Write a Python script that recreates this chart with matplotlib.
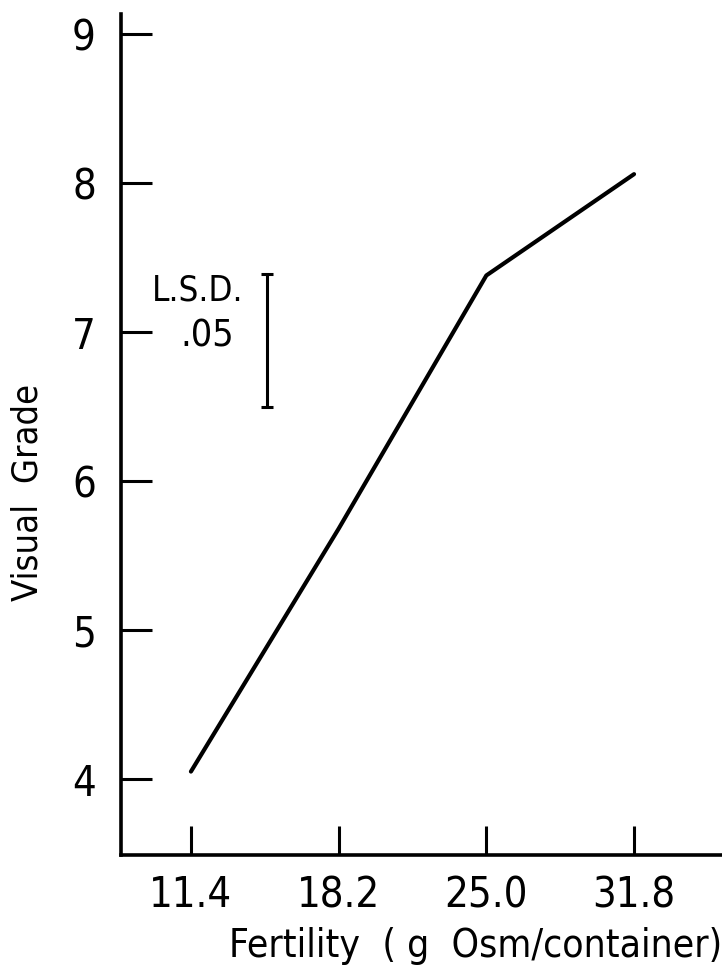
import matplotlib
matplotlib.use('Agg')
import matplotlib.pyplot as plt

# данные
fertility = [11.4, 18.2, 25.0, 31.8]
grade = [4.05, 5.68, 7.38, 8.06]
xtick_labels = ['11.4', '18.2', '25.0', '31.8']
yticks = [4, 5, 6, 7, 8, 9]
lsd_x = 14.9
lsd_low, lsd_high = 6.50, 7.39

plt.rcParams['font.family'] = ['DejaVu Sans']
plt.rcParams['font.stretch'] = 'condensed'

fig = plt.figure(figsize=(7.22, 9.8), dpi=100)
ax = fig.add_axes([121 / 722, 1 - 855 / 980, (722 - 121) / 722, (855 - 14) / 980])

ax.plot(fertility, grade, color='black', lw=3, solid_capstyle='round')

# L.S.D. bar
ax.errorbar([lsd_x], [(lsd_low + lsd_high) / 2], yerr=[(lsd_high - lsd_low) / 2],
            color='black', lw=2.2, capsize=4.5, capthick=2.2)
ax.text(lsd_x - 1.1, 7.21, 'L.S.D.', ha='right', va='baseline', fontsize=25)
ax.text(lsd_x - 1.5, 6.905, '.05', ha='right', va='baseline', fontsize=27)

ax.set_xlim(8.18, 35.85)
ax.set_ylim(3.49, 9.135)
ax.set_xticks(fertility)
ax.set_xticklabels(xtick_labels)
ax.set_yticks(yticks)

ax.spines['top'].set_visible(False)
ax.spines['right'].set_visible(False)
ax.spines['left'].set_linewidth(2.6)
ax.spines['bottom'].set_linewidth(2.6)

ax.tick_params(axis='y', direction='in', length=22, width=2.2, labelsize=30, pad=18)
ax.tick_params(axis='x', direction='in', length=21, width=2.2, labelsize=30, pad=14)

fig.text(0.038, 1 - 492 / 980, 'Visual  Grade', rotation=90, ha='center', va='center', fontsize=26)
fig.text(1.0, 0.035, 'Fertility  ( g  Osm/container)', ha='right', va='center', fontsize=28)

fig.savefig('out.png', dpi=100)
